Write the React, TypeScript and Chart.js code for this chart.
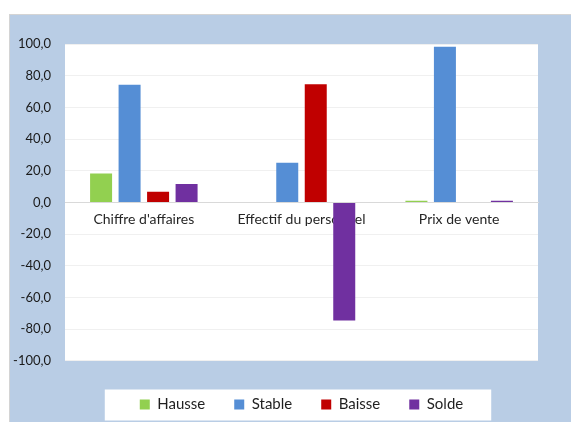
import React, { useEffect, useRef } from "react";
import { Chart, registerables } from "chart.js";

Chart.register(...registerables);

const categories = ["Chiffre d'affaires", "Effectif du personnel", "Prix de vente"];
const seriesNames = ["Hausse", "Stable", "Baisse", "Solde"];
const hausse = [18.3, 0, 1.0];
const stable = [74.2, 25.0, 98.3];
const baisse = [6.7, 74.6, 0];
const solde = [11.6, -74.6, 1.0];
const colors = ["#92D050", "#558ED5", "#C00000", "#7030A0"];
const yMin = -100;
const yMax = 100;
const yStep = 20;

const FONT = "Lato, 'Open Sans', sans-serif";

const bgPlugin = {
  id: "bgPlugin",
  beforeDraw(chart: any) {
    const { ctx, chartArea } = chart;
    ctx.save();
    ctx.fillStyle = "#FFFFFF";
    ctx.fillRect(chartArea.left, chartArea.top, chartArea.right - chartArea.left, chartArea.bottom - chartArea.top);
    const legend = chart.legend;
    if (legend && legend.legendHitBoxes && legend.legendHitBoxes.length) {
      const hb = legend.legendHitBoxes;
      const first = hb[0];
      const last = hb[hb.length - 1];
      const left = first.left - 35;
      const right = last.left + last.width + 28;
      const cy = first.top + first.height / 2;
      ctx.fillRect(left, cy - 15, right - left, 31);
    }
    ctx.restore();
  },
};

export default function App() {
  const ref = useRef<HTMLCanvasElement | null>(null);
  useEffect(() => {
    if (!ref.current) return;
    const data = [hausse, stable, baisse, solde];
    const chart = new Chart(ref.current, {
      type: "bar",
      data: {
        labels: categories,
        datasets: seriesNames.map((name, i) => ({
          label: name,
          data: data[i],
          backgroundColor: colors[i],
          borderWidth: 0,
          categoryPercentage: 0.723,
          barPercentage: 0.772,
        })),
      },
      options: {
        animation: false,
        responsive: false,
        devicePixelRatio: 1,
        layout: { padding: { left: 0, right: 33, top: 30, bottom: 0 } },
        plugins: {
          legend: {
            position: "bottom",
            fullSize: false,
            title: { display: true, text: " ", font: { size: 1 }, padding: { top: 6, bottom: 0 } },
            labels: {
              boxWidth: 10,
              boxHeight: 10,
              padding: 29,
              color: "#1F1F1F",
              font: { family: FONT, size: 15 },
            },
          },
          tooltip: { enabled: false },
        },
        scales: {
          x: {
            position: { y: 0 } as any,
            grid: { display: false, drawTicks: false },
            border: { display: true, color: "#D9D9D9", width: 1 },
            ticks: {
              color: "#262626",
              font: { family: FONT, size: 14 },
              padding: 9,
              maxRotation: 0,
            },
          },
          y: {
            min: yMin,
            max: yMax,
            afterFit: (scale: any) => {
              scale.width = 56;
            },
            grid: {
              drawTicks: false,
              color: (c: any) => (c.tick && c.tick.value === 0 ? "#D9D9D9" : "#F0F0F0"),
            },
            border: { display: false },
            ticks: {
              stepSize: yStep,
              padding: 14,
              color: "#1A1A1A",
              font: { family: FONT, size: 13 },
              callback: (v: any) => Number(v).toFixed(1).replace(".", ","),
            },
          },
        },
      },
      plugins: [bgPlugin],
    });
    return () => chart.destroy();
  }, []);

  return (
    <div style={{ position: "fixed", left: 0, top: 0, width: 571, height: 422, background: "#FFFFFF" }}>
      <div
        style={{
          position: "absolute",
          left: 9,
          top: 14,
          width: 562,
          height: 408,
          background: "#B9CDE5",
          borderTop: "1px solid #D4D4D4",
          borderLeft: "1px solid #D4D4D4",
          boxSizing: "border-box",
        }}
      />
      <canvas
        ref={ref}
        width={562}
        height={408}
        style={{ position: "absolute", left: 9, top: 14, width: 562, height: 408 }}
      />
    </div>
  );
}
